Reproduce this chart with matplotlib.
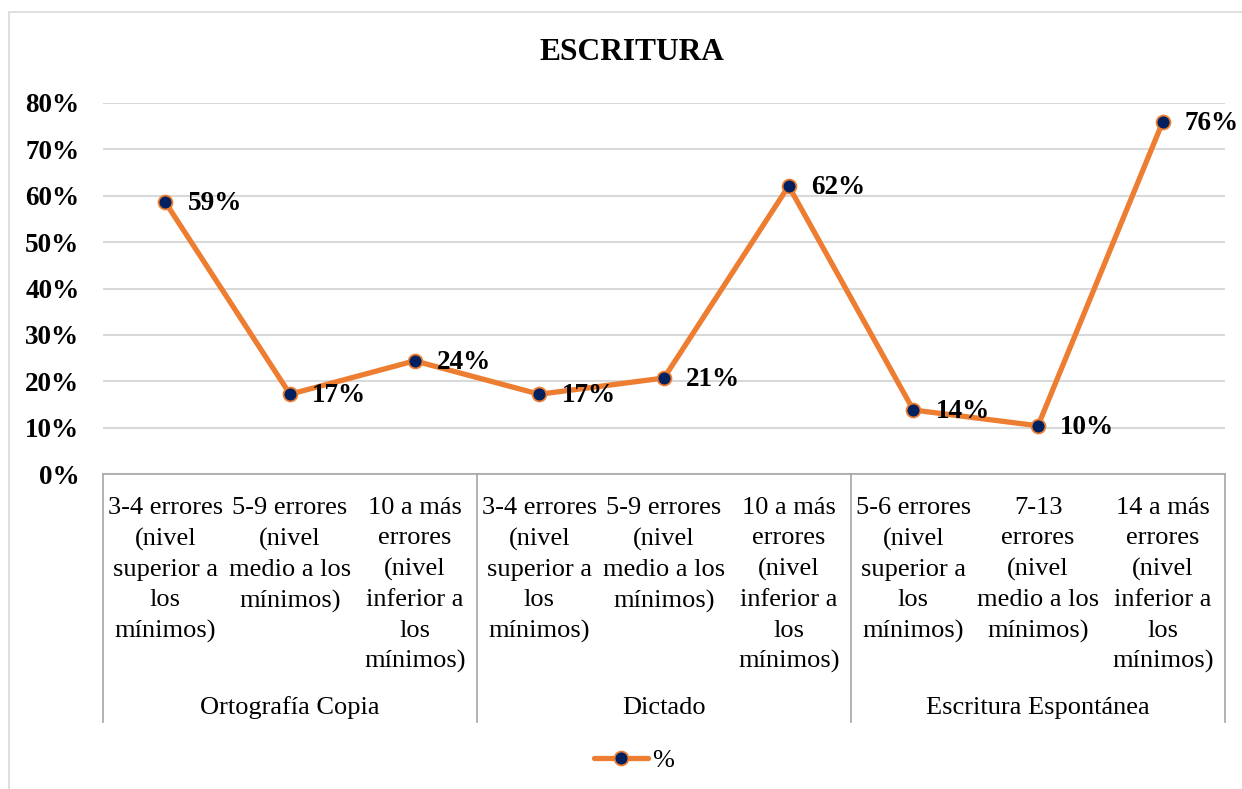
import matplotlib.pyplot as plt
from matplotlib.patches import Rectangle
import matplotlib.transforms as mtransforms

plt.rcParams['font.family'] = ['Liberation Serif', 'DejaVu Serif']

# data
categorias = [
    "3-4 errores\n(nivel\nsuperior a\nlos\nmínimos)",
    "5-9 errores\n(nivel\nmedio a los\nmínimos)",
    "10 a más\nerrores\n(nivel\ninferior a\nlos\nmínimos)",
    "3-4 errores\n(nivel\nsuperior a\nlos\nmínimos)",
    "5-9 errores\n(nivel\nmedio a los\nmínimos)",
    "10 a más\nerrores\n(nivel\ninferior a\nlos\nmínimos)",
    "5-6 errores\n(nivel\nsuperior a\nlos\nmínimos)",
    "7-13\nerrores\n(nivel\nmedio a los\nmínimos)",
    "14 a más\nerrores\n(nivel\ninferior a\nlos\nmínimos)",
]
grupos = ["Ortografía Copia", "Dictado", "Escritura Espontánea"]
valores = [0.586, 0.172, 0.244, 0.172, 0.207, 0.621, 0.138, 0.104, 0.759]
etiquetas = ["59%", "17%", "24%", "17%", "21%", "62%", "14%", "10%", "76%"]

naranja = '#ED7D31'
azul = '#002060'
gris = '#D9D9D9'

fig = plt.figure(figsize=(12.42, 7.89), dpi=100)
fig.patches.append(Rectangle((9 / 1242, -0.1), 1.2, 1 - 12 / 789 + 0.1,
                             transform=fig.transFigure, fill=False,
                             edgecolor=gris, lw=1.2))

ax = fig.add_axes([103 / 1242, 1 - 474 / 789, 1122 / 1242, 371 / 789])
x = list(range(len(valores)))
ax.plot(x, valores, color=naranja, lw=3.8, marker='o', markersize=10,
        markerfacecolor=azul, markeredgecolor=naranja, markeredgewidth=1.3,
        solid_capstyle='round', label='%', zorder=3)

for xi, v, t in zip(x, valores, etiquetas):
    ax.annotate(t, (xi, v), xytext=(16, -1), textcoords='offset points',
                ha='left', va='center', fontsize=19.5, fontweight='bold')

ax.set_xlim(-0.5, 8.5)
ax.set_ylim(0, 0.8)
ax.set_yticks([i / 10 for i in range(9)])
ax.set_yticklabels([f"{i * 10}%" for i in range(9)], fontsize=19.5,
                   fontweight='bold')
ax.tick_params(axis='y', length=0, pad=17)
ax.grid(axis='y', color=gris, lw=1.5)
ax.set_axisbelow(True)
for s in ['left', 'right', 'top']:
    ax.spines[s].set_visible(False)
ax.spines['bottom'].set_color('#A6A6A6')
ax.spines['bottom'].set_linewidth(1.2)

ax.set_xticks(x)
ax.set_xticklabels(categorias, fontsize=19, linespacing=1.49, va='top')
ax.tick_params(axis='x', length=0, pad=16.5)

# multi-level category axis
trans = mtransforms.blended_transform_factory(ax.transData, ax.transAxes)
for b in [-0.5, 2.5, 5.5, 8.5]:
    ax.plot([b, b], [0, -248 / 371], color='#A6A6A6', lw=1.2,
            transform=trans, clip_on=False)
for i, g in enumerate(grupos):
    ax.text(3 * i + 1, -234 / 371, g, transform=trans, ha='center',
            va='center', fontsize=19)

fig.text(632 / 1242, 1 - 53 / 789, "ESCRITURA", ha='center', va='center',
         fontsize=22.7, fontweight='bold')

fig.legend(loc='center', bbox_to_anchor=(634 / 1242, 1 - 760 / 789),
           frameon=False, fontsize=19, handlelength=2.05, handletextpad=0.15)

fig.savefig('out.png', dpi=100)
